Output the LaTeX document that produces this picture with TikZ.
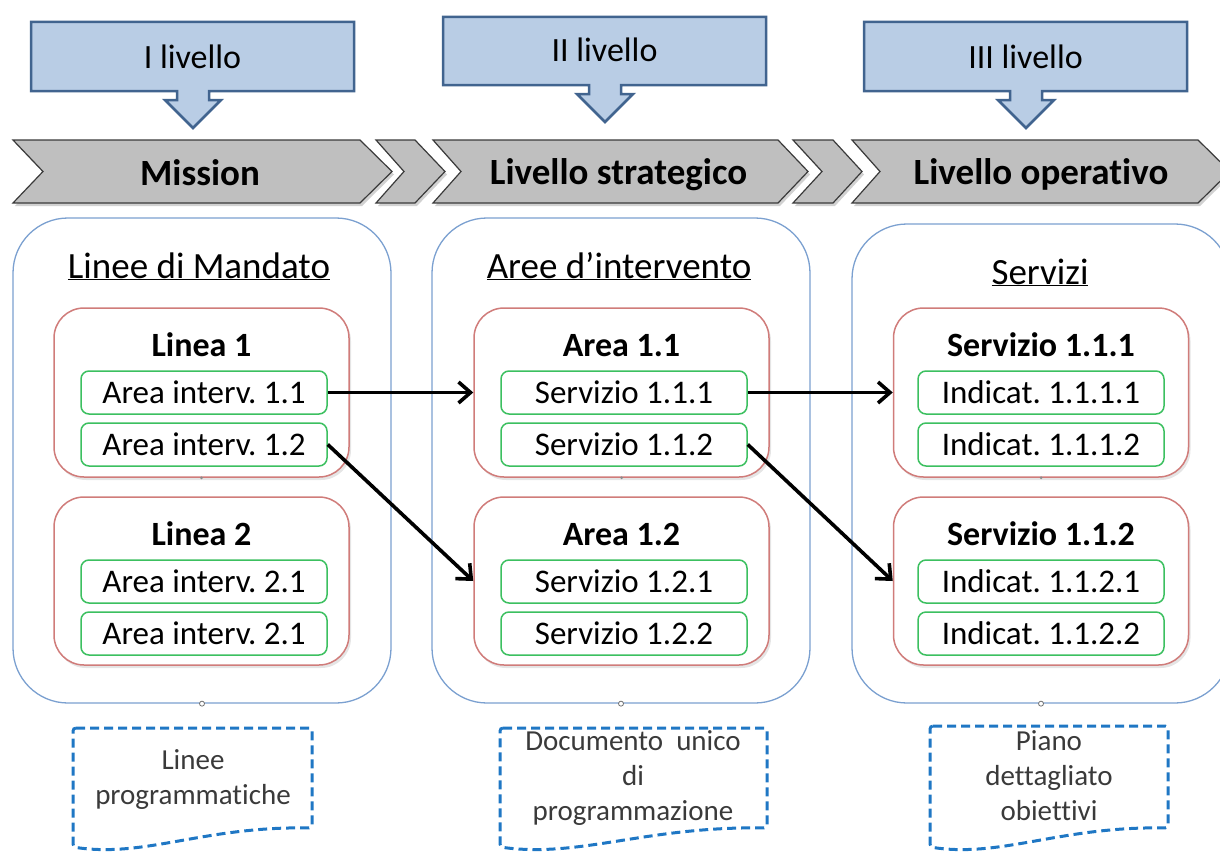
\documentclass[tikz,border=0pt]{standalone}
\usepackage{fontspec}
\setmainfont{Carlito}[Ligatures=CommonOff]
\usetikzlibrary{arrows.meta}
\definecolor{callfill}{HTML}{B9CDE5}
\definecolor{callline}{HTML}{41648F}
\definecolor{chevfill}{HTML}{BFBFBF}
\definecolor{chevline}{HTML}{3A3A3A}
\definecolor{bigline}{HTML}{7BA0D0}
\definecolor{redline}{HTML}{D07C7A}
\definecolor{greenline}{HTML}{3CC060}
\definecolor{docline}{HTML}{1F77C4}
\definecolor{doctext}{HTML}{3A3A3A}
\frenchspacing
\begin{document}
\begin{tikzpicture}[x=1pt,y=-1pt,
 callout/.style={fill=callfill,draw=callline,line width=2.5pt,line join=miter},
 calltext/.style={font=\fontsize{34}{38}\selectfont,inner sep=0pt,anchor=base},
 chev/.style={fill=chevfill,draw=chevline,line width=1.2pt},
 chevshadow/.style={fill=black!18,draw=none},
 chevtext/.style={font=\fontsize{37}{40}\selectfont\bfseries,inner sep=0pt,anchor=base},
 bigbox/.style={draw=bigline,line width=1.3pt,rounded corners=55pt,minimum width=378pt,inner sep=0pt},
 title/.style={font=\fontsize{37}{40}\selectfont,inner sep=0pt,anchor=base},
 redbox/.style={draw=redline,line width=1.5pt,fill=white,rounded corners=30pt,minimum width=295pt,inner sep=0pt},
 redshadow/.style={fill=black!10,draw=none,rounded corners=30pt,minimum width=295pt,inner sep=0pt},
 redhead/.style={font=\fontsize{34}{38}\selectfont\bfseries,inner sep=0pt,anchor=base},
 greenbox/.style={draw=greenline,line width=1.5pt,fill=white,rounded corners=8pt,minimum width=246pt,minimum height=43pt,inner sep=0pt,font=\fontsize{33}{36}\selectfont},
 conn/.style={line width=3.6pt,-{Straight Barb[length=12pt,width=21pt]}},
 doc/.style={draw=docline,line width=3pt,dash pattern=on 9pt off 5pt,rounded corners=3pt},
 doctxt/.style={font=\fontsize{29}{35}\selectfont,text=doctext,align=center,inner sep=0pt},
 dot/.style={draw=black!55,line width=0.8pt,fill=white}
]
\useasboundingbox (0,0) rectangle (1220,851);
\clip (0,0) rectangle (1220,851);

% ---------- callouts ----------
\draw[callout] (31,22) -- (354,22) -- (354,91) -- (209,91) -- (209,100) -- (221,100) -- (193,128) -- (165,100) -- (177,100) -- (177,91) -- (31,91) -- cycle;
\node[calltext] (c1) at (192.5,68) {I livello};
\draw[callout] (443,17) -- (766,17) -- (766,85) -- (621,85) -- (621,94) -- (633,94) -- (605,122) -- (577,94) -- (589,94) -- (589,85) -- (443,85) -- cycle;
\node[calltext] (c2) at (604.5,62) {II livello};
\draw[callout] (864,22) -- (1187,22) -- (1187,91) -- (1042,91) -- (1042,100) -- (1054,100) -- (1026,128) -- (998,100) -- (1010,100) -- (1010,91) -- (864,91) -- cycle;
\node[calltext] (c3) at (1025.5,68) {III livello};

% ---------- chevrons ----------
\begin{scope}[shift={(2,3)}]
\fill[chevshadow] (13,140) -- (360,140) -- (392,171.5) -- (360,203) -- (13,203) -- (43,171.5) -- cycle;
\fill[chevshadow] (376,140) -- (415,140) -- (445,171.5) -- (415,203) -- (376,203) -- (404,171.5) -- cycle;
\fill[chevshadow] (433,140) -- (778,140) -- (808,171.5) -- (778,203) -- (433,203) -- (461,171.5) -- cycle;
\fill[chevshadow] (793,140) -- (833,140) -- (862,171.5) -- (833,203) -- (793,203) -- (822,171.5) -- cycle;
\fill[chevshadow] (852,140) -- (1198,140) -- (1230,171.5) -- (1198,203) -- (852,203) -- (880,171.5) -- cycle;
\end{scope}
\draw[chev] (13,140) -- (360,140) -- (392,171.5) -- (360,203) -- (13,203) -- (43,171.5) -- cycle;
\draw[chev] (376,140) -- (415,140) -- (445,171.5) -- (415,203) -- (376,203) -- (404,171.5) -- cycle;
\draw[chev] (433,140) -- (778,140) -- (808,171.5) -- (778,203) -- (433,203) -- (461,171.5) -- cycle;
\draw[chev] (793,140) -- (833,140) -- (862,171.5) -- (833,203) -- (793,203) -- (822,171.5) -- cycle;
\draw[chev] (852,140) -- (1198,140) -- (1230,171.5) -- (1198,203) -- (852,203) -- (880,171.5) -- cycle;
\node[chevtext] (h1) at (200,185) {Mission};
\node[chevtext] (h2) at (618.5,184) {Livello strategico};
\node[chevtext] (h3) at (1041,184) {Livello operativo};

% ---------- big boxes ----------
\node[bigbox,minimum height=485pt] (b1) at (202,460.5) {};
\node[bigbox,minimum height=485pt] (b2) at (621,460.5) {};
\node[bigbox,minimum height=479pt] (b3) at (1041,463.5) {};
\node[title] (t1) at (199,278) {\underline{Linee di Mandato}};
\node[title] (t2) at (619,278) {\underline{Aree d’intervento}};
\node[title] (t3) at (1040,284) {\underline{Servizi}};

% ---------- red boxes ----------
\foreach \cx in {201.5,621.5,1041}{
  \node[redshadow,minimum height=169pt] at (\cx+2,395.5) {};
  \node[redshadow,minimum height=168pt] at (\cx+2,584) {};
}
\node[redbox,minimum height=169pt] (r11) at (201.5,392.5) {};
\node[redbox,minimum height=168pt] (r12) at (201.5,581) {};
\node[redbox,minimum height=169pt] (r21) at (621.5,392.5) {};
\node[redbox,minimum height=168pt] (r22) at (621.5,581) {};
\node[redbox,minimum height=169pt] (r31) at (1041,392.5) {};
\node[redbox,minimum height=168pt] (r32) at (1041,581) {};
\node[redhead] (rh11) at (201.5,356) {Linea 1};
\node[redhead] (rh12) at (201.5,545) {Linea 2};
\node[redhead] (rh21) at (621.5,356) {Area 1.1};
\node[redhead] (rh22) at (621.5,545) {Area 1.2};
\node[redhead] (rh31) at (1041,356) {Servizio 1.1.1};
\node[redhead] (rh32) at (1041,545) {Servizio 1.1.2};

% ---------- green boxes ----------
\node[greenbox] (g11) at (204,392.5) {Area interv. 1.1};
\node[greenbox] (g12) at (204,444.5) {Area interv. 1.2};
\node[greenbox] (g13) at (204,581.5) {Area interv. 2.1};
\node[greenbox] (g14) at (204,633.5) {Area interv. 2.1};
\node[greenbox] (g21) at (624,392.5) {Servizio 1.1.1};
\node[greenbox] (g22) at (624,444.5) {Servizio 1.1.2};
\node[greenbox] (g23) at (624,581.5) {Servizio 1.2.1};
\node[greenbox] (g24) at (624,633.5) {Servizio 1.2.2};
\node[greenbox] (g31) at (1041,392.5) {Indicat. 1.1.1.1};
\node[greenbox] (g32) at (1041,444.5) {Indicat. 1.1.1.2};
\node[greenbox] (g33) at (1041,581.5) {Indicat. 1.1.2.1};
\node[greenbox] (g34) at (1041,633.5) {Indicat. 1.1.2.2};

% ---------- small dots ----------
\foreach \b in {b1,b2,b3}{ \draw[dot] (\b.south) circle (2.5pt); }
\foreach \r in {r11,r21,r31}{ \fill[black!45] (\r.south) circle (1.5pt); }

% ---------- connectors ----------
\draw[conn] (g11.east) -- (r21.west);
\draw[conn] (g12.east) -- (r22.west);
\draw[conn] (g21.east) -- (r31.west);
\draw[conn] (g22.east) -- (r32.west);

% ---------- documents ----------
\draw[doc] (73,728) -- (312,728) -- (312,828) .. controls (204,826) and (145,858) .. (73,847) -- cycle;
\node[doctxt] (d1) at (193,780) {Linee\\programmatiche};
\draw[doc] (500,728) -- (767,728) -- (767,828) .. controls (647,826) and (580,858) .. (500,847) -- cycle;
\node[doctxt] (d2) at (633,778) {Documento\ \ unico\\di\\programmazione};
\draw[doc] (930,726) -- (1168,726) -- (1168,828) .. controls (1061,826) and (1001,858) .. (930,847) -- cycle;
\node[doctxt] (d3) at (1049,776) {Piano\\dettagliato\\obiettivi};
\end{tikzpicture}
\end{document}
